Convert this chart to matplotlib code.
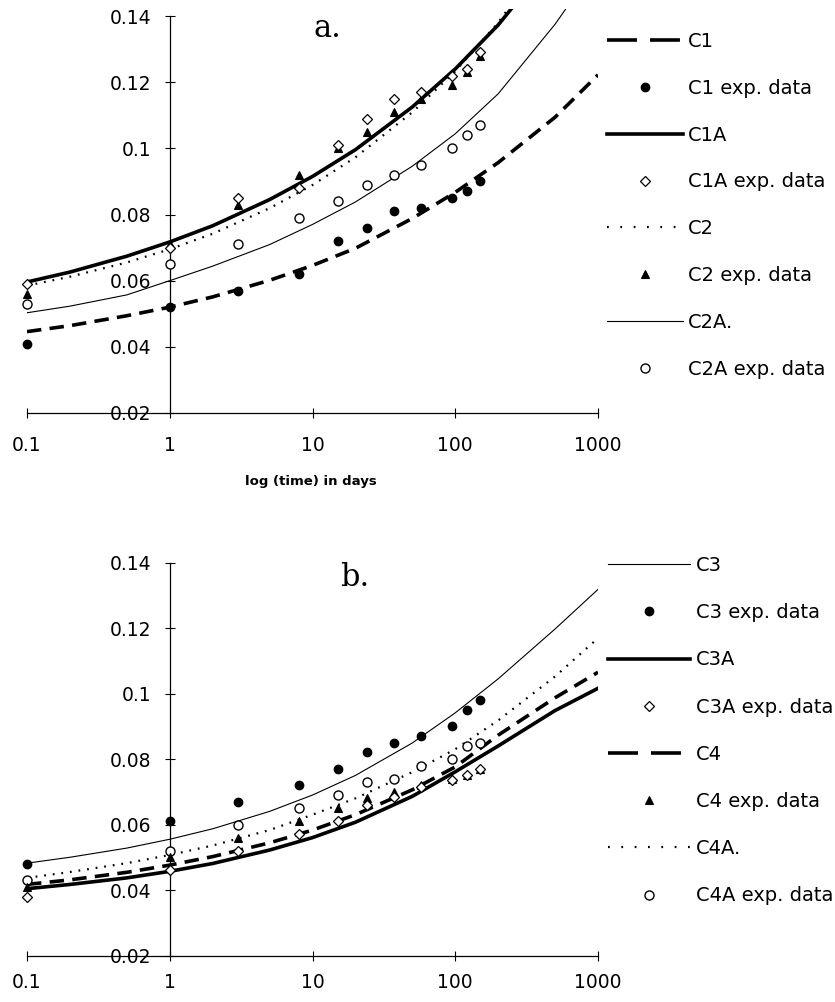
import numpy as np
import matplotlib
matplotlib.use('Agg')
import matplotlib.pyplot as plt
from matplotlib.lines import Line2D

# sampled time grid for the model curves (days)
curve_t = [0.1, 0.2, 0.5, 1, 2, 5, 10, 20, 50, 100, 200, 500, 1000]
# times of the measurements (days)
exp_t = [0.1, 1, 3, 8, 15, 24, 37, 58, 95, 120, 150]

# ---- panel a ----
c1_curve = [0.0446, 0.0464, 0.0494, 0.052, 0.0551, 0.0601, 0.0646, 0.0698, 0.0788, 0.0867, 0.0957, 0.1094, 0.1222]
c1a_curve = [0.0596, 0.0626, 0.0674, 0.0717, 0.0766, 0.0845, 0.0915, 0.0996, 0.1125, 0.124, 0.1373, 0.1585, 0.1773]
c2_curve = [0.0585, 0.0612, 0.0655, 0.0695, 0.0742, 0.0819, 0.0889, 0.0973, 0.1109, 0.1233, 0.138, 0.162, 0.184]
c2a_curve = [0.0503, 0.0523, 0.0557, 0.060, 0.0644, 0.0709, 0.077, 0.0838, 0.0946, 0.1044, 0.1165, 0.1375, 0.156]

c1_exp = [0.041, 0.052, 0.057, 0.062, 0.072, 0.076, 0.081, 0.082, 0.085, 0.087, 0.090]
c1a_exp = [0.059, 0.070, 0.085, 0.088, 0.101, 0.109, 0.115, 0.117, 0.122, 0.124, 0.129]
c2_exp = [0.056, 0.071, 0.083, 0.092, 0.100, 0.105, 0.111, 0.115, 0.119, 0.123, 0.128]
c2a_exp = [0.053, 0.065, 0.071, 0.079, 0.084, 0.089, 0.092, 0.095, 0.100, 0.104, 0.107]

# ---- panel b ----
c3_curve = [0.0482, 0.050, 0.0528, 0.0555, 0.0587, 0.064, 0.069, 0.075, 0.0849, 0.0941, 0.1045, 0.1197, 0.1318]
c3a_curve = [0.0404, 0.0417, 0.0437, 0.0457, 0.0481, 0.0522, 0.056, 0.0607, 0.0686, 0.0761, 0.084, 0.0948, 0.1016]
c4_curve = [0.0417, 0.0431, 0.0454, 0.0476, 0.0502, 0.0544, 0.0583, 0.063, 0.0706, 0.0776, 0.0873, 0.0987, 0.1065]
c4a_curve = [0.0437, 0.0455, 0.0482, 0.0507, 0.0536, 0.0583, 0.063, 0.068, 0.076, 0.083, 0.0918, 0.1052, 0.1169]

c3_exp = [0.048, 0.061, 0.067, 0.072, 0.077, 0.082, 0.085, 0.087, 0.090, 0.095, 0.098]
c3a_exp = [0.038, 0.046, 0.052, 0.057, 0.061, 0.066, 0.0685, 0.0715, 0.0735, 0.075, 0.077]
c4_exp = [0.041, 0.050, 0.056, 0.061, 0.065, 0.068, 0.070, 0.072, 0.074, 0.075, 0.077]
c4a_exp = [0.043, 0.052, 0.060, 0.065, 0.069, 0.073, 0.074, 0.078, 0.080, 0.084, 0.085]

x_ticks = [0.1, 1, 10, 100, 1000]
x_labels = ['0.1', '1', '10', '100', '1000']
y_ticks = [0.02, 0.04, 0.06, 0.08, 0.1, 0.12, 0.14]
y_labels = ['0.02', '0.04', '0.06', '0.08', '0.1', '0.12', '0.14']

FONT = 'DejaVu Sans'
TICK_FS = 13.5
LEG_FS = 14

# line / marker styles
dashed = dict(color='k', lw=2.6, linestyle=(0, (4, 2.3)))
thick = dict(color='k', lw=2.6, linestyle='-')
dotted = dict(color='k', lw=1.6, linestyle=(0, (0.8, 3.1)))
thin = dict(color='k', lw=0.8, linestyle='-')
m_fcircle = dict(marker='o', ms=6, mfc='k', mec='k', mew=1, linestyle='none')
m_ocircle = dict(marker='o', ms=6.5, mfc='white', mec='k', mew=1, linestyle='none')
m_diamond = dict(marker='D', ms=4.8, mfc='white', mec='k', mew=0.9, linestyle='none')
m_tri = dict(marker='^', ms=6, mfc='k', mec='k', mew=0.8, linestyle='none')
# the legend draws the dashed sample with two long dashes
leg_dashed = dict(color='k', lw=2.6, linestyle=(0, (8.3, 3.6)))
leg_dotted = dict(color='k', lw=1.6, linestyle=(0, (0.8, 5.2)))


def style_axes(ax, xpad):
    ax.set_xscale('log')
    ax.set_xlim(0.1, 1000)
    ax.set_ylim(0.02, 0.142)
    ax.spines['top'].set_visible(False)
    ax.spines['right'].set_visible(False)
    ax.spines['left'].set_position(('data', 1))
    ax.spines['left'].set_bounds(0.02, 0.14)
    for s in ('left', 'bottom'):
        ax.spines[s].set_linewidth(0.9)
    ax.set_xticks(x_ticks)
    ax.set_xticklabels(x_labels)
    ax.xaxis.set_minor_locator(matplotlib.ticker.NullLocator())
    ax.set_yticks(y_ticks)
    ax.set_yticklabels(y_labels)
    ax.tick_params(axis='both', direction='inout', length=7, width=0.8,
                   labelsize=TICK_FS)
    ax.tick_params(axis='y', pad=10)
    ax.tick_params(axis='x', pad=xpad)
    for lab in ax.get_xticklabels() + ax.get_yticklabels():
        lab.set_family(FONT)
    ax.patch.set_alpha(0)


fig = plt.figure(figsize=(8.35, 10.02), dpi=100)
W, H = 835.0, 1002.0
ax1 = fig.add_axes([27 / W, (H - 413) / H, 571 / W, (413 - 9.4) / H])
ax2 = fig.add_axes([27 / W, (H - 955.5) / H, 571 / W, (955.5 - 556) / H])

# ---------------- panel a ----------------
ax1.plot(curve_t, c1_curve, **dashed)
ax1.plot(curve_t, c2a_curve, **thin)
ax1.plot(curve_t, c2_curve, **dotted)
ax1.plot(curve_t, c1a_curve, **thick)
ax1.plot(exp_t, c1_exp, clip_on=False, zorder=5, **m_fcircle)
ax1.plot(exp_t, c2a_exp, clip_on=False, zorder=5, **m_ocircle)
ax1.plot(exp_t, c2_exp, clip_on=False, zorder=6, **m_tri)
ax1.plot(exp_t, c1a_exp, clip_on=False, zorder=6, **m_diamond)
style_axes(ax1, xpad=13)
ax1.text(12.8, 0.1363, 'a.', ha='center', va='center', fontsize=22,
         family='DejaVu Serif')

h1 = [Line2D([], [], **leg_dashed), Line2D([], [], **m_fcircle),
      Line2D([], [], **thick), Line2D([], [], **m_diamond),
      Line2D([], [], **leg_dotted), Line2D([], [], **m_tri),
      Line2D([], [], **thin), Line2D([], [], **m_ocircle)]
l1 = ['C1', 'C1 exp. data', 'C1A', 'C1A exp. data', 'C2', 'C2 exp. data',
      'C2A.', 'C2A exp. data']
ax1.legend(h1, l1, loc='upper left', bbox_to_anchor=(607 / W, 1 - 32 / H),
           bbox_transform=fig.transFigure, frameon=False, handlelength=3.9,
           handletextpad=0.25, labelspacing=1.43, borderpad=0, borderaxespad=0,
           numpoints=1, prop={'family': FONT, 'size': LEG_FS})

fig.text(311 / W, 1 - 481 / H, 'log (time) in days', ha='center', va='center',
         fontsize=9.5, fontweight='bold', family=FONT)

# ---------------- panel b ----------------
ax2.plot(curve_t, c3_curve, **thin)
ax2.plot(curve_t, c4a_curve, **dotted)
ax2.plot(curve_t, c4_curve, **dashed)
ax2.plot(curve_t, c3a_curve, **thick)
ax2.plot(exp_t, c3_exp, clip_on=False, zorder=5, **m_fcircle)
ax2.plot(exp_t, c4a_exp, clip_on=False, zorder=5, **m_ocircle)
ax2.plot(exp_t, c4_exp, clip_on=False, zorder=6, **m_tri)
ax2.plot(exp_t, c3a_exp, clip_on=False, zorder=6, **m_diamond)
style_axes(ax2, xpad=9)
ax2.text(19.8, 0.1355, 'b.', ha='center', va='center', fontsize=22,
         family='DejaVu Serif')

h2 = [Line2D([], [], **thin), Line2D([], [], **m_fcircle),
      Line2D([], [], **thick), Line2D([], [], **m_diamond),
      Line2D([], [], **leg_dashed), Line2D([], [], **m_tri),
      Line2D([], [], **leg_dotted), Line2D([], [], **m_ocircle)]
l2 = ['C3', 'C3 exp. data', 'C3A', 'C3A exp. data', 'C4', 'C4 exp. data',
      'C4A.', 'C4A exp. data']
ax2.legend(h2, l2, loc='upper left', bbox_to_anchor=(608 / W, 1 - 556 / H),
           bbox_transform=fig.transFigure, frameon=False, handlelength=4.2,
           handletextpad=0.3, labelspacing=1.45, borderpad=0, borderaxespad=0,
           numpoints=1, prop={'family': FONT, 'size': LEG_FS})

fig.savefig('out.png', dpi=100)
